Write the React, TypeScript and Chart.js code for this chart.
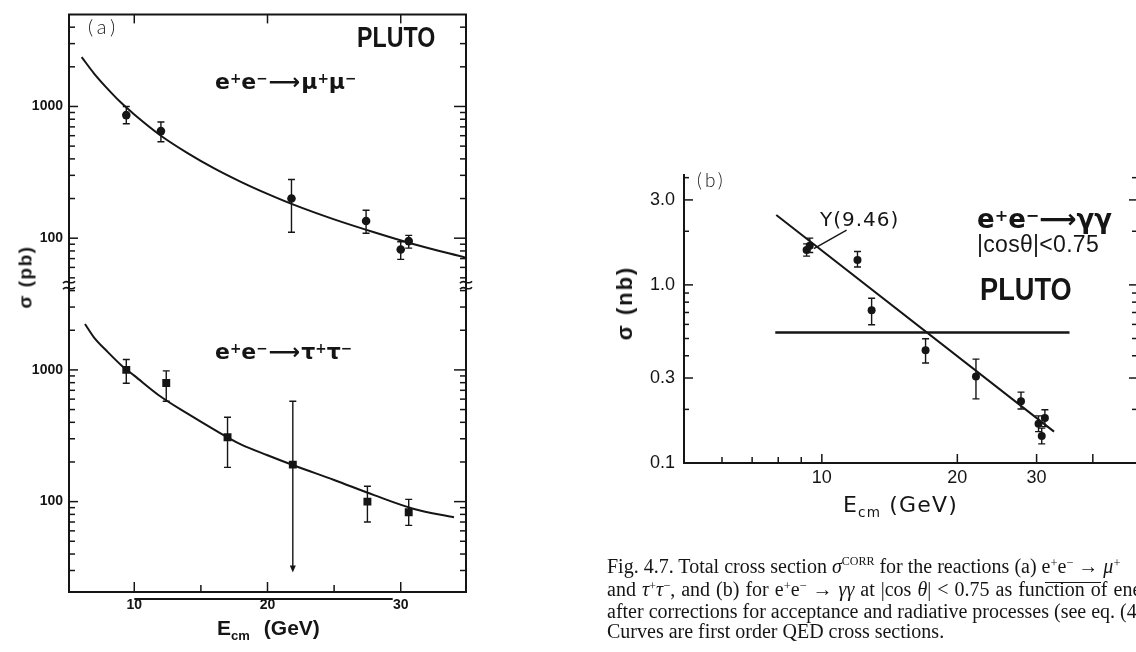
import React, { useEffect, useRef } from 'react';
import { Chart, registerables } from 'chart.js';

Chart.register(...registerables);

const INK = '#151515';
const SANS = "'Liberation Sans', Arial, sans-serif";
const DEJA = "'DejaVu Sans', sans-serif";
const SERIF = "'Liberation Serif', 'Times New Roman', serif";
const LIGHT = "Lato, 'Open Sans', sans-serif";

// ---------- panel (a), upper: e+e- -> mu+mu-  (sigma in pb) ----------
const muE = [9.4, 12.0, 21.8, 27.4, 30.0, 30.6];
const muSigma = [860, 650, 200, 135, 82, 95];
const muLo = [740, 540, 111, 109, 69, 84];
const muHi = [1000, 762, 279, 163, 94, 105];
const muCurveE = [6.05, 7, 8, 9, 10, 12, 14, 16, 18, 20, 22, 25, 28, 31, 34.9];
const muCurveSigma = [2370, 1770, 1360, 1070, 870, 600, 443, 339, 268, 217, 179, 139, 111, 90, 71];

// ---------- panel (a), lower: e+e- -> tau+tau-  (sigma in pb) ----------
const tauE = [9.4, 12.4, 17.0, 21.9, 27.5, 30.6];
const tauSigma = [1000, 796, 308, 191, 100, 83];
const tauLo = [792, 578, 182, 29, 70, 66];
const tauHi = [1200, 984, 437, 578, 131, 104];
const tauLimitArrow = [false, false, false, true, false, false];
const tauCurveE = [6.3, 7, 8, 9, 10, 12, 14, 16, 18, 20, 22, 25, 28, 31, 34.0];
const tauCurveSigma = [2230, 1750, 1370, 1090, 905, 625, 465, 352, 272, 225, 188, 146, 112, 88, 76];

// ---------- panel (a) axes ----------
const aXLabels = [10, 20, 30];
const aXMinor = [15, 25];
const aYLabels = [100, 1000];
const aTopMinor = [50, 60, 70, 80, 90, 200, 300, 400, 500, 600, 700, 800, 900, 2000, 3000, 4000];
const aBotMinor = [30, 40, 50, 60, 70, 80, 90, 200, 300, 400, 500, 600, 700, 800, 900, 2000, 3000, 4000];
const aUnderlineE = [10, 29.4];

// ---------- panel (b): e+e- -> gamma gamma  (sigma in nb) ----------
const ggE = [9.25, 9.4, 12.0, 12.9, 17.0, 22.0, 27.7, 30.3, 30.8, 31.3];
const ggSigma = [1.57, 1.66, 1.38, 0.72, 0.43, 0.306, 0.222, 0.166, 0.142, 0.179];
const ggLo = [1.45, 1.52, 1.26, 0.597, 0.364, 0.229, 0.201, 0.15, 0.128, 0.16];
const ggHi = [1.7, 1.83, 1.54, 0.842, 0.498, 0.383, 0.25, 0.184, 0.157, 0.199];
const qedLineE = [7.92, 32.8];
const qedLineSigma = [2.47, 0.15];
const flatLineE = [7.88, 35.5];
const flatLineSigma = [0.54, 0.54];
const upsPointerE = [11.35, 9.6];
const upsPointerSigma = [2.03, 1.6];

// ---------- panel (b) axes ----------
const bXLabels = [10, 20, 30];
const bXMajor = [10, 20, 30, 40];
const bXMinor = [6, 7, 8, 9];
const bYLabels = [0.1, 0.3, 1, 3];
const bYMajor = [0.3, 1, 3];
const bYMinor = [0.2, 0.4, 0.5, 0.6, 0.7, 0.8, 0.9, 2, 4];

const pts = (xs: number[], ys: number[]) => xs.map((x, i) => ({ x, y: ys[i] }));

type TickSpec = { scale: string; side: 'left' | 'right' | 'top' | 'bottom'; major: number[]; minor: number[]; majorLen: number; minorLen: number };

function innerTicks(id: string, specs: TickSpec[], lw: number) {
  return {
    id,
    afterDraw(chart: any) {
      const { ctx, chartArea } = chart;
      ctx.save();
      ctx.strokeStyle = INK;
      ctx.lineWidth = lw;
      for (const s of specs) {
        const sc = chart.scales[s.scale];
        const draw = (v: number, len: number) => {
          const p = sc.getPixelForValue(v);
          ctx.beginPath();
          if (s.side === 'left') { ctx.moveTo(chartArea.left, p); ctx.lineTo(chartArea.left + len, p); }
          else if (s.side === 'right') { ctx.moveTo(chartArea.right, p); ctx.lineTo(chartArea.right - len, p); }
          else if (s.side === 'bottom') { ctx.moveTo(p, chartArea.bottom); ctx.lineTo(p, chartArea.bottom - len); }
          else { ctx.moveTo(p, chartArea.top); ctx.lineTo(p, chartArea.top + len); }
          ctx.stroke();
        };
        s.major.forEach((v) => draw(v, s.majorLen));
        s.minor.forEach((v) => draw(v, s.minorLen));
      }
      ctx.restore();
    },
  };
}

function frame(id: string, sides: string[], lw: number) {
  return {
    id,
    afterDatasetsDraw(chart: any) {
      const { ctx } = chart;
      const { left, right, top, bottom } = chart.chartArea;
      ctx.save();
      ctx.strokeStyle = INK;
      ctx.lineWidth = lw;
      ctx.lineCap = 'square';
      ctx.beginPath();
      if (sides.includes('top')) { ctx.moveTo(left, top); ctx.lineTo(right, top); }
      if (sides.includes('right')) { ctx.moveTo(right, top); ctx.lineTo(right, bottom); }
      if (sides.includes('bottom')) { ctx.moveTo(left, bottom); ctx.lineTo(right, bottom); }
      if (sides.includes('left')) { ctx.moveTo(left, top); ctx.lineTo(left, bottom); }
      ctx.stroke();
      ctx.restore();
    },
  };
}

type ErrSpec = { dataset: number; lo: number[]; hi: number[]; arrow?: boolean[]; cap: number };

function errorBars(id: string, specs: ErrSpec[]) {
  return {
    id,
    beforeDatasetsDraw(chart: any) {
      const { ctx } = chart;
      ctx.save();
      ctx.strokeStyle = INK;
      ctx.fillStyle = INK;
      ctx.lineWidth = 1.4;
      for (const s of specs) {
        const meta = chart.getDatasetMeta(s.dataset);
        const xs = chart.scales[meta.xAxisID];
        const ys = chart.scales[meta.yAxisID];
        const data = chart.data.datasets[s.dataset].data as any[];
        data.forEach((pt, j) => {
          const x = xs.getPixelForValue(pt.x);
          const yh = ys.getPixelForValue(s.hi[j]);
          const yl = ys.getPixelForValue(s.lo[j]);
          const arrow = s.arrow && s.arrow[j];
          ctx.beginPath();
          ctx.moveTo(x, yh);
          ctx.lineTo(x, arrow ? yl - 4 : yl);
          ctx.moveTo(x - s.cap, yh);
          ctx.lineTo(x + s.cap, yh);
          if (!arrow) { ctx.moveTo(x - s.cap, yl); ctx.lineTo(x + s.cap, yl); }
          ctx.stroke();
          if (arrow) {
            ctx.beginPath();
            ctx.moveTo(x - 3, yl - 7);
            ctx.lineTo(x + 3, yl - 7);
            ctx.lineTo(x, yl);
            ctx.closePath();
            ctx.fill();
          }
        });
      }
      ctx.restore();
    },
  };
}

const axisBreak = {
  id: 'axisBreak',
  afterDraw(chart: any) {
    const { ctx, chartArea } = chart;
    const y = chart.scales.yTop.bottom;
    ctx.save();
    ctx.strokeStyle = INK;
    ctx.lineWidth = 1.6;
    for (const x of [chartArea.left, chartArea.right]) {
      for (const d of [-3, 3]) {
        ctx.beginPath();
        ctx.moveTo(x - 6, y + d + 1);
        ctx.bezierCurveTo(x - 2, y + d - 4, x + 2, y + d + 4, x + 6, y + d - 1);
        ctx.stroke();
      }
    }
    ctx.restore();
  },
};

const underline = {
  id: 'underline',
  afterDraw(chart: any) {
    const { ctx, chartArea } = chart;
    const xs = chart.scales.x;
    ctx.save();
    ctx.strokeStyle = INK;
    ctx.lineWidth = 2;
    ctx.beginPath();
    ctx.moveTo(xs.getPixelForValue(aUnderlineE[0]), chartArea.bottom + 7);
    ctx.lineTo(xs.getPixelForValue(aUnderlineE[1]), chartArea.bottom + 7);
    ctx.stroke();
    ctx.restore();
  },
};

const lineDs = (data: any[], extra: any = {}) => ({
  data,
  showLine: true,
  borderColor: INK,
  borderWidth: 2,
  pointRadius: 0,
  fill: false,
  ...extra,
});

function configA(): any {
  const yCommon = (min: number, max: number, weight: number, stackWeight: number) => ({
    type: 'logarithmic',
    position: 'left',
    stack: 'a',
    stackWeight,
    weight,
    min,
    max,
    bounds: 'data',
    grid: { display: false, drawTicks: false },
    border: { display: false },
    ticks: { autoSkip: false, padding: 6, color: INK, font: { family: SANS, size: 14, weight: 'bold' }, callback: (v: any) => String(v) },
    afterBuildTicks: (s: any) => { s.ticks = aYLabels.map((v) => ({ value: v })); },
    afterFit: (s: any) => { s.width = 69; },
  });
  return {
    type: 'scatter',
    data: {
      datasets: [
        lineDs(pts(muCurveE, muCurveSigma), { yAxisID: 'yTop', cubicInterpolationMode: 'monotone' }),
        { data: pts(muE, muSigma), yAxisID: 'yTop', pointRadius: 4.3, pointStyle: 'circle', backgroundColor: INK, borderColor: INK, borderWidth: 0 },
        lineDs(pts(tauCurveE, tauCurveSigma), { yAxisID: 'yBot', cubicInterpolationMode: 'monotone' }),
        { data: pts(tauE, tauSigma), yAxisID: 'yBot', pointRadius: 5.6, pointStyle: 'rect', backgroundColor: INK, borderColor: INK, borderWidth: 0 },
      ],
    },
    options: {
      animation: false,
      responsive: false,
      maintainAspectRatio: false,
      layout: { padding: { top: 6, right: 14, left: 0, bottom: 0 } },
      plugins: { legend: { display: false }, tooltip: { enabled: false } },
      scales: {
        x: {
          type: 'linear',
          position: 'bottom',
          min: 5.1,
          max: 34.9,
          bounds: 'data',
          grid: { display: false, drawTicks: false },
          border: { display: false },
          ticks: { autoSkip: false, padding: 5, maxRotation: 0, color: INK, font: { family: SANS, size: 14, weight: 'bold' }, callback: (v: any) => String(v) },
          afterBuildTicks: (s: any) => { s.ticks = aXLabels.map((v) => ({ value: v })); },
          afterFit: (s: any) => { s.height = 60; },
        },
        yTop: yCommon(44, 5000, 2, 2.0555),
        yBot: yCommon(20.6, 4400, 1, 2.3296),
      },
    },
    plugins: [
      errorBars('errA', [
        { dataset: 1, lo: muLo, hi: muHi, cap: 3.5 },
        { dataset: 3, lo: tauLo, hi: tauHi, arrow: tauLimitArrow, cap: 3.5 },
      ]),
      frame('frameA', ['top', 'right', 'bottom', 'left'], 2),
      innerTicks('ticksA', [
        { scale: 'x', side: 'bottom', major: aXLabels, minor: aXMinor, majorLen: 10, minorLen: 7 },
        { scale: 'x', side: 'top', major: aXLabels, minor: [], majorLen: 9, minorLen: 0 },
        { scale: 'yTop', side: 'left', major: aYLabels, minor: aTopMinor, majorLen: 9, minorLen: 6 },
        { scale: 'yBot', side: 'left', major: aYLabels, minor: aBotMinor, majorLen: 9, minorLen: 6 },
        { scale: 'yTop', side: 'right', major: aYLabels, minor: aTopMinor, majorLen: 12, minorLen: 6 },
        { scale: 'yBot', side: 'right', major: aYLabels, minor: aBotMinor, majorLen: 12, minorLen: 6 },
      ], 1.5),
      axisBreak,
      underline,
    ],
  };
}

function configB(): any {
  return {
    type: 'scatter',
    data: {
      datasets: [
        lineDs(pts(qedLineE, qedLineSigma), { borderWidth: 2 }),
        lineDs(pts(flatLineE, flatLineSigma), { borderWidth: 2.6 }),
        lineDs(pts(upsPointerE, upsPointerSigma), { borderWidth: 1.4 }),
        { data: pts(ggE, ggSigma), pointRadius: 4, pointStyle: 'circle', backgroundColor: INK, borderColor: INK, borderWidth: 0 },
      ],
    },
    options: {
      animation: false,
      responsive: false,
      maintainAspectRatio: false,
      layout: { padding: { top: 175, right: 22, left: 0, bottom: 0 } },
      plugins: { legend: { display: false }, tooltip: { enabled: false } },
      scales: {
        x: {
          type: 'logarithmic',
          position: 'bottom',
          min: 4.94,
          max: 50.4,
          bounds: 'data',
          grid: { display: false, drawTicks: false },
          border: { display: false },
          ticks: { autoSkip: false, padding: 4, maxRotation: 0, color: INK, font: { family: SANS, size: 18 }, callback: (v: any) => String(v) },
          afterBuildTicks: (s: any) => { s.ticks = bXLabels.map((v) => ({ value: v })); },
          afterFit: (s: any) => { s.height = 189; },
        },
        y: {
          type: 'logarithmic',
          position: 'left',
          min: 0.1,
          max: 4.14,
          bounds: 'data',
          grid: { display: false, drawTicks: false },
          border: { display: false },
          ticks: { autoSkip: false, padding: 9, color: INK, font: { family: SANS, size: 18 }, callback: (v: any) => Number(v).toFixed(1) },
          afterBuildTicks: (s: any) => { s.ticks = bYLabels.map((v) => ({ value: v })); },
          afterFit: (s: any) => { s.width = 124; },
        },
      },
    },
    plugins: [
      errorBars('errB', [{ dataset: 3, lo: ggLo, hi: ggHi, cap: 3.5 }]),
      frame('frameB', ['right', 'bottom', 'left'], 2),
      innerTicks('ticksB', [
        { scale: 'x', side: 'bottom', major: bXMajor, minor: bXMinor, majorLen: 9, minorLen: 6 },
        { scale: 'y', side: 'left', major: bYMajor, minor: bYMinor, majorLen: 9, minorLen: 5 },
        { scale: 'y', side: 'right', major: bYMajor, minor: bYMinor, majorLen: 9, minorLen: 6 },
      ], 1.5),
    ],
  };
}

const Sup = ({ c, r = -0.45, s = 0.62 }: { c: string; r?: number; s?: number }) => (
  <span style={{ fontSize: `${s}em`, position: 'relative', top: `${r}em` }}>{c}</span>
);
const Sub = ({ c }: { c: string }) => (
  <span style={{ fontSize: '0.62em', position: 'relative', top: '0.35em' }}>{c}</span>
);
const Over = ({ children }: any) => (
  <span style={{ position: 'relative' }}>
    {children}
    <span style={{ position: 'absolute', left: 0, right: 0, top: 4, borderTop: `1.6px solid ${INK}` }} />
  </span>
);

function Txt({ x, base, size, family = SANS, weight = 400, ls = 0, sx = 1, k = 0.85, children }: any) {
  return (
    <div
      style={{
        position: 'absolute',
        left: x,
        top: base - k * size,
        fontSize: size,
        lineHeight: `${size}px`,
        fontFamily: family,
        fontWeight: weight,
        letterSpacing: ls,
        whiteSpace: 'nowrap',
        color: INK,
        transform: sx !== 1 ? `scaleX(${sx})` : undefined,
        transformOrigin: '0 0',
      }}
    >
      {children}
    </div>
  );
}

function VTxt({ cx, cy, size, family = SANS, weight = 700, ls = 0, children }: any) {
  return (
    <div
      style={{
        position: 'absolute',
        left: cx,
        top: cy,
        fontSize: size,
        lineHeight: `${size}px`,
        fontFamily: family,
        fontWeight: weight,
        letterSpacing: ls,
        whiteSpace: 'nowrap',
        color: INK,
        transform: 'translate(-50%, -50%) rotate(-90deg)',
      }}
    >
      {children}
    </div>
  );
}

export default function App() {
  const refA = useRef<HTMLCanvasElement>(null);
  const refB = useRef<HTMLCanvasElement>(null);

  useEffect(() => {
    const a = new Chart(refA.current as HTMLCanvasElement, configA());
    const b = new Chart(refB.current as HTMLCanvasElement, configB());
    return () => {
      a.destroy();
      b.destroy();
    };
  }, []);

  return (
    <div style={{ position: 'fixed', left: 0, top: 0, width: 1136, height: 652, overflow: 'hidden', background: '#fff' }}>
      <canvas ref={refA} width={480} height={652} style={{ position: 'absolute', left: 0, top: 0, width: 480, height: 652 }} />
      <canvas ref={refB} width={600} height={652} style={{ position: 'absolute', left: 560, top: 0, width: 600, height: 652 }} />

      {/* panel (a) annotations */}
      <Txt x={88} base={34} size={20} family={LIGHT} weight={300} ls={4} k={0.887}>(a)</Txt>
      <Txt x={357} base={48} size={29} weight={700} sx={0.8}>PLUTO</Txt>
      <Txt x={215} base={90} size={22} family={DEJA} weight={700}>
        e<Sup c="+" />e<Sup c="−" /><span style={{ margin: '0 1px' }}>⟶</span>μ<Sup c="+" />μ<Sup c="−" />
      </Txt>
      <Txt x={215} base={360} size={22} family={DEJA} weight={700}>
        e<Sup c="+" />e<Sup c="−" /><span style={{ margin: '0 1px' }}>⟶</span>τ<Sup c="+" />τ<Sup c="−" />
      </Txt>
      <VTxt cx={25} cy={277} size={19} ls={1.5}>σ (pb)</VTxt>
      <Txt x={217} base={635} size={21} weight={700}>
        E<Sub c="cm" /><span style={{ marginLeft: 14 }}>(GeV)</span>
      </Txt>

      {/* panel (b) annotations */}
      <Txt x={697} base={187} size={19} family={LIGHT} weight={300} ls={3} k={0.887}>(b)</Txt>
      <Txt x={820} base={226} size={20} family={DEJA} ls={1}>Υ(9.46)</Txt>
      <Txt x={977} base={228} size={26} family={DEJA} weight={700}>
        e<Sup c="+" />e<Sup c="−" />⟶γγ
      </Txt>
      <Txt x={977} base={253} size={23} ls={0.3}>|cosθ|&lt;0.75</Txt>
      <Txt x={980} base={300} size={32} weight={700} sx={0.85}>PLUTO</Txt>
      <VTxt cx={625} cy={303} size={22} ls={2}>σ (nb)</VTxt>
      <Txt x={843} base={513} size={22} family={DEJA} ls={1.2}>
        E<Sub c="cm" /><span style={{ marginLeft: 8 }}>(GeV)</span>
      </Txt>

      {/* caption */}
      <div
        style={{
          position: 'absolute',
          left: 607,
          top: 557,
          fontFamily: SERIF,
          fontSize: 20,
          lineHeight: '19.7px',
          color: INK,
          whiteSpace: 'nowrap',
        }}
      >
        <div>
          Fig. 4.7. Total cross section <i>σ</i><Sup c="CORR" r={-0.7} s={0.6} /> for the reactions (a) e<Sup c="+" />e<Sup c="−" /> → <i>μ</i><Sup c="+" />
        </div>
        <div style={{ wordSpacing: 1 }}>
          and <i>τ</i><Sup c="+" /><i>τ</i><Sup c="−" />, and (b) for e<Sup c="+" />e<Sup c="−" /> → <i>γγ</i> at |cos <i>θ</i>| &lt; 0.75 as fun
          <Over>ction o</Over>f ene
        </div>
        <div>after corrections for acceptance and radiative processes (see eq. (4.</div>
        <div>Curves are first order QED cross sections.</div>
      </div>
    </div>
  );
}
